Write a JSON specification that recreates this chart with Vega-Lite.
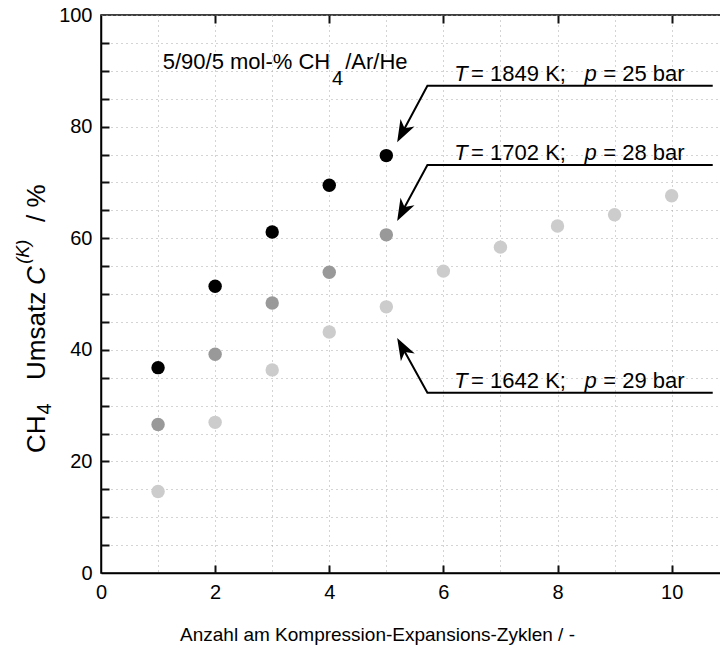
{
  "$schema": "https://vega.github.io/schema/vega-lite/v6.json",
  "width": 622,
  "height": 558,
  "autosize": {"type": "none"},
  "padding": {"left": 101, "top": 15, "right": 0, "bottom": 73},
  "background": "white",
  "config": {
    "font": "Liberation Sans",
    "view": {"stroke": "#000", "strokeWidth": 1.5},
    "axis": {
      "domainColor": "#000", "domainWidth": 1.5,
      "labelColor": "#000", "titleColor": "#000",
      "labelFont": "Liberation Sans", "titleFont": "Liberation Sans",
      "labelFontSize": 20, "titleFontWeight": "normal"
    }
  },
  "datasets": {
    "points": [
      {"series": "1849 K", "cycle": 1, "conv": 36.8},
      {"series": "1849 K", "cycle": 2, "conv": 51.4},
      {"series": "1849 K", "cycle": 3, "conv": 61.1},
      {"series": "1849 K", "cycle": 4, "conv": 69.5},
      {"series": "1849 K", "cycle": 5, "conv": 74.8},
      {"series": "1702 K", "cycle": 1, "conv": 26.6},
      {"series": "1702 K", "cycle": 2, "conv": 39.2},
      {"series": "1702 K", "cycle": 3, "conv": 48.4},
      {"series": "1702 K", "cycle": 4, "conv": 53.9},
      {"series": "1702 K", "cycle": 5, "conv": 60.6},
      {"series": "1642 K", "cycle": 1, "conv": 14.6},
      {"series": "1642 K", "cycle": 2, "conv": 27.0},
      {"series": "1642 K", "cycle": 3, "conv": 36.4},
      {"series": "1642 K", "cycle": 4, "conv": 43.2},
      {"series": "1642 K", "cycle": 5, "conv": 47.7},
      {"series": "1642 K", "cycle": 6, "conv": 54.1},
      {"series": "1642 K", "cycle": 7, "conv": 58.4},
      {"series": "1642 K", "cycle": 8, "conv": 62.2},
      {"series": "1642 K", "cycle": 9, "conv": 64.2},
      {"series": "1642 K", "cycle": 10, "conv": 67.6}
    ],
    "lines": [
      {"id": "a", "ord": 1, "x": 10.72, "y": 87.3},
      {"id": "a", "ord": 2, "x": 5.72, "y": 87.3},
      {"id": "a", "ord": 3, "x": 5.275, "y": 78.8},
      {"id": "b", "ord": 1, "x": 10.72, "y": 73.1},
      {"id": "b", "ord": 2, "x": 5.72, "y": 73.1},
      {"id": "b", "ord": 3, "x": 5.275, "y": 64.7},
      {"id": "c", "ord": 1, "x": 10.72, "y": 32.3},
      {"id": "c", "ord": 2, "x": 5.72, "y": 32.3},
      {"id": "c", "ord": 3, "x": 5.277, "y": 40.5}
    ],
    "arrowsDown": [
      {"x": 5.19, "y": 77.2},
      {"x": 5.19, "y": 63.1}
    ],
    "arrowsUp": [
      {"x": 5.19, "y": 42.1}
    ],
    "annNormal": [
      {"t": "= 1849 K;", "x": 6.486, "y": 88.2},
      {"t": "= 25 bar", "x": 8.802, "y": 88.2},
      {"t": "= 1702 K;", "x": 6.486, "y": 74.0},
      {"t": "= 28 bar", "x": 8.802, "y": 74.0},
      {"t": "= 1642 K;", "x": 6.486, "y": 33.1},
      {"t": "= 29 bar", "x": 8.802, "y": 33.1}
    ],
    "annItalic": [
      {"t": "T", "x": 6.19, "y": 88.2},
      {"t": "p", "x": 8.474, "y": 88.2},
      {"t": "T", "x": 6.19, "y": 74.0},
      {"t": "p", "x": 8.474, "y": 74.0},
      {"t": "T", "x": 6.19, "y": 33.1},
      {"t": "p", "x": 8.474, "y": 33.1}
    ],
    "note": [
      {"t": "5/90/5 mol-% CH", "x": 1.082, "y": 90.3},
      {"t": "/Ar/He", "x": 4.28, "y": 90.3}
    ],
    "noteSub": [
      {"t": "4", "x": 4.05, "y": 87.5}
    ],
    "ytitle": [
      {"t": "CH", "x": -0.98, "y": 21.5},
      {"t": "Umsatz", "x": -0.98, "y": 34.6},
      {"t": "/ %", "x": -0.98, "y": 62.9}
    ],
    "ytitleItalic": [
      {"t": "C", "x": -0.98, "y": 51.6}
    ],
    "ytitleSub": [
      {"t": "4", "x": -0.87, "y": 28.4}
    ],
    "ytitleSup": [
      {"t": "(K)", "x": -1.263, "y": 55.4}
    ]
  },
  "resolve": {"axis": {"x": "independent", "y": "independent"}},
  "layer": [
    {
      "data": {"name": "points"},
      "mark": {"type": "circle", "size": 180, "opacity": 1},
      "encoding": {
        "x": {
          "field": "cycle", "type": "quantitative",
          "scale": {"domain": [0, 10.9], "nice": false, "zero": false},
          "axis": {
            "values": [0, 0.5, 1, 1.5, 2, 2.5, 3, 3.5, 4, 4.5, 5, 5.5, 6, 6.5, 7, 7.5, 8, 8.5, 9, 9.5, 10, 10.5],
            "grid": true, "gridDash": [1, 4], "gridColor": "#a8a8a8", "gridWidth": 1,
            "ticks": false,
            "format": "d",
            "labelExpr": "datum.value % 2 === 0 ? datum.label : ''",
            "labelPadding": 9, "labelFlush": false, "labelOverlap": false,
            "title": "Anzahl am Kompression-Expansions-Zyklen / -",
            "titleFontSize": 19, "titleX": 276, "titleY": 67, "titleBaseline": "alphabetic"
          }
        },
        "y": {
          "field": "conv", "type": "quantitative",
          "scale": {"domain": [0, 100], "nice": false},
          "axis": {
            "values": [0, 5, 10, 15, 20, 25, 30, 35, 40, 45, 50, 55, 60, 65, 70, 75, 80, 85, 90, 95, 100],
            "grid": true, "gridDash": [1, 4], "gridColor": "#a8a8a8", "gridWidth": 1,
            "ticks": false,
            "format": "d",
            "labelExpr": "datum.value % 20 === 0 ? datum.label : ''",
            "labelPadding": 9, "labelOverlap": false, "labelFlush": false,
            "title": null
          }
        },
        "color": {
          "field": "series", "type": "nominal",
          "scale": {"domain": ["1849 K", "1702 K", "1642 K"], "range": ["#000000", "#999999", "#cccccc"]},
          "legend": null
        }
      }
    },
    {
      "data": {"name": "lines"},
      "mark": {"type": "line", "color": "#000", "strokeWidth": 2},
      "encoding": {
        "x": {
          "field": "x", "type": "quantitative",
          "scale": {"domain": [0, 10.9], "nice": false, "zero": false},
          "axis": {"orient": "top", "values": [2, 4, 6, 8, 10], "offset": -8, "ticks": true, "tickSize": 8, "tickColor": "#111111", "tickWidth": 2, "labels": false, "grid": false, "title": null, "domain": false}
        },
        "y": {
          "field": "y", "type": "quantitative", "scale": {"domain": [0, 100], "nice": false},
          "axis": {"orient": "left", "values": [5, 10, 15, 20, 25, 30, 35, 40, 45, 50, 55, 60, 65, 70, 75, 80, 85, 90, 95], "offset": -8, "ticks": true, "tickSize": 8, "tickColor": "#111111", "tickWidth": 2, "labels": false, "grid": false, "title": null, "domain": false}
        },
        "detail": {"field": "id"},
        "order": {"field": "ord"}
      }
    },
    {
      "data": {"name": "arrowsDown"},
      "mark": {"type": "point", "shape": "M0,0L0.36,1L0,0.72L-0.36,1Z", "size": 1936, "filled": true, "color": "#000", "opacity": 1, "angle": 208},
      "encoding": {
        "x": {
          "field": "x", "type": "quantitative",
          "axis": {"orient": "bottom", "values": [2, 4, 6, 8, 10], "offset": -8, "ticks": true, "tickSize": 8, "tickColor": "#111111", "tickWidth": 2, "labels": false, "grid": false, "title": null, "domain": false}
        },
        "y": {"field": "y", "type": "quantitative", "axis": null}
      }
    },
    {
      "data": {"name": "arrowsUp"},
      "mark": {"type": "point", "shape": "M0,0L0.36,1L0,0.72L-0.36,1Z", "size": 1936, "filled": true, "color": "#000", "opacity": 1, "angle": 331},
      "encoding": {
        "x": {"field": "x", "type": "quantitative", "axis": null},
        "y": {"field": "y", "type": "quantitative", "axis": null}
      }
    },
    {
      "data": {"name": "annNormal"},
      "mark": {"type": "text", "fontSize": 22, "align": "left", "baseline": "alphabetic", "color": "#000"},
      "encoding": {
        "x": {"field": "x", "type": "quantitative", "axis": null},
        "y": {"field": "y", "type": "quantitative", "axis": null},
        "text": {"field": "t"}
      }
    },
    {
      "data": {"name": "annItalic"},
      "mark": {"type": "text", "fontSize": 22, "fontStyle": "italic", "align": "left", "baseline": "alphabetic", "color": "#000"},
      "encoding": {
        "x": {"field": "x", "type": "quantitative", "axis": null},
        "y": {"field": "y", "type": "quantitative", "axis": null},
        "text": {"field": "t"}
      }
    },
    {
      "data": {"name": "note"},
      "mark": {"type": "text", "fontSize": 22, "align": "left", "baseline": "alphabetic", "color": "#000"},
      "encoding": {
        "x": {"field": "x", "type": "quantitative", "axis": null},
        "y": {"field": "y", "type": "quantitative", "axis": null},
        "text": {"field": "t"}
      }
    },
    {
      "data": {"name": "noteSub"},
      "mark": {"type": "text", "fontSize": 20, "align": "left", "baseline": "alphabetic", "color": "#000"},
      "encoding": {
        "x": {"field": "x", "type": "quantitative", "axis": null},
        "y": {"field": "y", "type": "quantitative", "axis": null},
        "text": {"field": "t"}
      }
    },
    {
      "data": {"name": "ytitle"},
      "mark": {"type": "text", "fontSize": 26, "angle": 270, "align": "left", "baseline": "alphabetic", "color": "#000"},
      "encoding": {
        "x": {"field": "x", "type": "quantitative", "axis": null},
        "y": {"field": "y", "type": "quantitative", "axis": null},
        "text": {"field": "t"}
      }
    },
    {
      "data": {"name": "ytitleItalic"},
      "mark": {"type": "text", "fontSize": 26, "fontStyle": "italic", "angle": 270, "align": "left", "baseline": "alphabetic", "color": "#000"},
      "encoding": {
        "x": {"field": "x", "type": "quantitative", "axis": null},
        "y": {"field": "y", "type": "quantitative", "axis": null},
        "text": {"field": "t"}
      }
    },
    {
      "data": {"name": "ytitleSub"},
      "mark": {"type": "text", "fontSize": 20, "angle": 270, "align": "left", "baseline": "alphabetic", "color": "#000"},
      "encoding": {
        "x": {"field": "x", "type": "quantitative", "axis": null},
        "y": {"field": "y", "type": "quantitative", "axis": null},
        "text": {"field": "t"}
      }
    },
    {
      "data": {"name": "ytitleSup"},
      "mark": {"type": "text", "fontSize": 18, "fontStyle": "italic", "angle": 270, "align": "left", "baseline": "alphabetic", "color": "#000"},
      "encoding": {
        "x": {"field": "x", "type": "quantitative", "axis": null},
        "y": {"field": "y", "type": "quantitative", "axis": null},
        "text": {"field": "t"}
      }
    }
  ]
}
